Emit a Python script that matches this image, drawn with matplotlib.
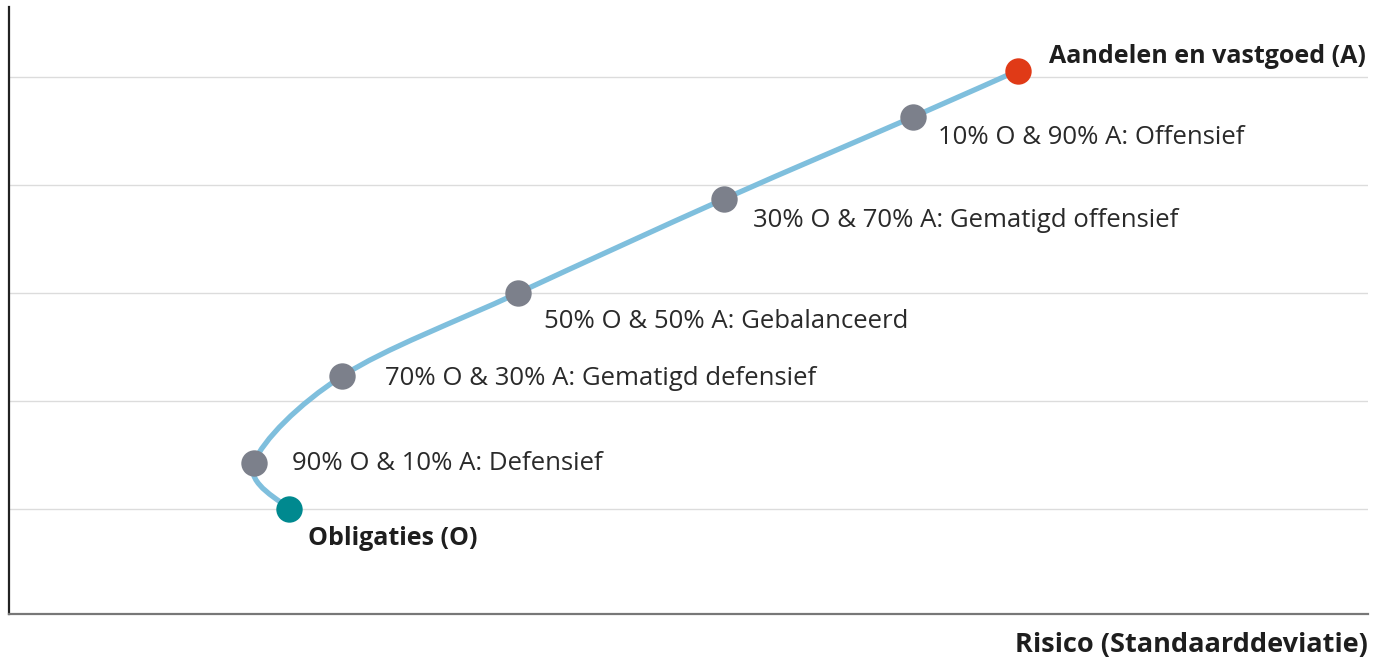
"""
Risk/return curve for bond/equity mixes
"""

import numpy as np
import matplotlib.pyplot as plt
from matplotlib.path import Path
from matplotlib.patches import PathPatch

plt.rcParams['font.family'] = ['Open Sans', 'DejaVu Sans']

# Portfolio points: risk (x) and expected return (y), bonds -> equities
risk = [2.80, 2.45, 3.33, 5.09, 7.15, 9.04, 10.09]
ret = [1.00, 1.43, 2.23, 3.00, 3.87, 4.63, 5.06]
labels = [
    'Obligaties (O)',
    '90% O & 10% A: Defensief',
    '70% O & 30% A: Gematigd defensief',
    '50% O & 50% A: Gebalanceerd',
    '30% O & 70% A: Gematigd offensief',
    '10% O & 90% A: Offensief',
    'Aandelen en vastgoed (A)',
]
grid_levels = [1, 2, 3, 4, 5]

# label offsets in points and styling
offsets = [(14, -21), (27, -0.5), (31, -1.5), (19, -20.5), (21, -15.5), (18, -14.5), (22, 10)]
bold = [True, False, False, False, False, False, True]
dot_colors = ['#00898f', '#7c808b', '#7c808b', '#7c808b', '#7c808b', '#7c808b', '#e03a17']


def smooth_path(xs, ys):
    """Catmull-Rom through the points, expressed as cubic Bezier segments"""
    pts = np.column_stack([xs, ys])
    verts = [pts[0]]
    codes = [Path.MOVETO]
    n = len(pts)
    for i in range(n - 1):
        p0 = pts[max(i - 1, 0)]
        p1 = pts[i]
        p2 = pts[i + 1]
        p3 = pts[min(i + 2, n - 1)]
        c1 = p1 + (p2 - p0) / 6.0
        c2 = p2 - (p3 - p1) / 6.0
        verts += [c1, c2, p2]
        codes += [Path.CURVE4] * 3
    return Path(verts, codes)


fig = plt.figure(figsize=(13.84, 6.62), dpi=100)
ax = fig.add_axes([9 / 1384, 48 / 662, 1359 / 1384, 607 / 662])
ax.set_xlim(0, 13.59)
ax.set_ylim(0.028, 5.648)

for g in grid_levels:
    ax.axhline(g, color='#dcdcdc', linewidth=1, zorder=1)

curve = PathPatch(smooth_path(risk, ret), facecolor='none', edgecolor='#7fbfdd',
                  linewidth=3.8, capstyle='round', zorder=2)
ax.add_patch(curve)

for x, y, c in zip(risk, ret, dot_colors):
    ax.plot(x, y, 'o', color=c, markersize=19, markeredgewidth=0, zorder=3)

for x, y, lab, off, b in zip(risk, ret, labels, offsets, bold):
    ax.annotate(lab, (x, y), xytext=off, textcoords='offset points',
                ha='left', va='center', fontsize=18 if b else 18.5,
                fontweight='bold' if b else 'normal',
                color='#1e1e1e' if b else '#2a2a2a')

ax.set_xticks([])
ax.set_yticks([])
for side in ['top', 'right']:
    ax.spines[side].set_visible(False)
ax.spines['left'].set_color('#222222')
ax.spines['left'].set_linewidth(1.6)
ax.spines['bottom'].set_color('#777777')
ax.spines['bottom'].set_linewidth(1.6)

ax.set_xlabel('Risico (Standaarddeviatie)', fontsize=19.5, fontweight='bold',
              color='#1e1e1e', loc='right', labelpad=13)

plt.savefig('out.png', dpi=100)
